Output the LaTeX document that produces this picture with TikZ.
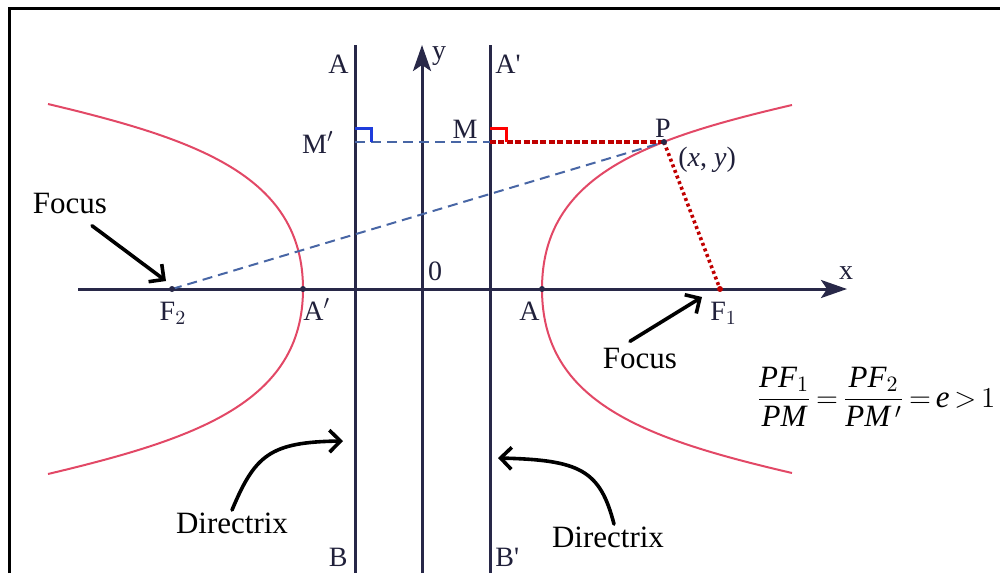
\documentclass[tikz,border=0pt]{standalone}
\usepackage{amsmath}
\usepackage{fontspec}
\setmainfont{Liberation Serif}
\usetikzlibrary{arrows.meta}

\definecolor{axisblue}{RGB}{40,40,72}
\definecolor{hypred}{RGB}{226,72,102}
\definecolor{dashblue}{RGB}{72,102,165}
\definecolor{dotred}{RGB}{192,0,0}
\definecolor{markblue}{RGB}{30,60,220}

\begin{document}
\begin{tikzpicture}[x=0.5pt,y=-0.5pt,
    axis/.style={axisblue,line width=1.5pt},
    lbl/.style={font=\fontsize{14}{16}\selectfont,inner sep=0pt,text=axisblue!80!black},
    word/.style={font=\fontsize{15.5}{18}\selectfont,inner sep=0pt},
    callout/.style={black,line width=1.8pt,line cap=round,
      -{Straight Barb[length=5.5pt,width=11pt,line width=1.8pt]}}]
  \useasboundingbox (0,0) rectangle (1000,573);
  \draw[line width=1.5pt] (9,573) -- (9,8) -- (1000,8);

  \coordinate (O) at (422,289);
  \coordinate (F1) at (720,289);
  \coordinate (F2) at (172,289);
  \coordinate (A1) at (542,289);
  \coordinate (A2) at (303,289);
  \coordinate (P) at (664,142);
  \coordinate (M) at (490,142);
  \coordinate (Mp) at (355,142);

  % axes and directrices
  \draw[axis,-{Stealth[length=13pt,width=9pt,inset=3pt]}] (78,289) -- (847,289);
  \draw[axis,-{Stealth[length=13pt,width=9pt,inset=3pt]}] (422,573) -- (422,45);
  \draw[axis] (355,45) -- (355,573);
  \draw[axis] (490,45) -- (490,573);

  % the two branches
  \draw[hypred,line width=1pt] (792,105) .. controls (646,139) and (542,175) .. (A1)
    .. controls (542,403) and (646,439) .. (792,473);
  \draw[hypred,line width=1pt] (48,104) .. controls (195,139) and (303,175) .. (A2)
    .. controls (303,403) and (195,439) .. (48,474);

  \draw[dashblue,line width=1pt,dash pattern=on 5pt off 3pt] (F2) -- (P);
  \draw[dashblue,line width=1pt,dash pattern=on 5pt off 3pt] (Mp) -- (M);
  \draw[dotred,line width=1.6pt,dash pattern=on 3pt off 1.2pt] (M) -- (P);
  \draw[dotred,line width=1.8pt,dash pattern=on 1.5pt off 1.5pt] (P) -- (F1);
  \draw[markblue,line width=1.5pt] (Mp) ++(0,-14) -- ++(16,0) -- ++(0,14);
  \draw[red,line width=1.5pt] (M) ++(0,-14) -- ++(16,0) -- ++(0,14);

  \fill[axisblue] (F2) circle (1.5pt) (A2) circle (1.5pt) (A1) circle (1.5pt) (P) circle (1.5pt);
  \fill[dotred] (F1) circle (1.5pt);

  % labels
  \node[lbl,anchor=base east] (Atop) at (349,73) {A};
  \node[lbl,anchor=base west] (Aptop) at (495,73) {A\textquotesingle};
  \node[lbl,anchor=base east] (Bbot) at (348,566) {B};
  \node[lbl,anchor=base west] (Bpbot) at (495,566) {B\textquotesingle};
  \node[lbl,anchor=base east] (Mplab) at (334,153) {M$'$};
  \node[lbl,anchor=base east] (Mlab) at (478,138) {M};
  \node[lbl] (ylab) at (439,56) {y};
  \node[lbl] (xlab) at (846,273) {x};
  \node[lbl] (Olab) at (435,271) {0};
  \node[lbl,anchor=base] (Plab) at (663,137) {P};
  \node[lbl,anchor=base west] (xylab) at (678,166) {(\textit{x}, \textit{y})};
  \node[lbl,anchor=base] (F2lab) at (173,320) {F$_2$};
  \node[lbl,anchor=base west] (A2lab) at (303,320) {A$'$};
  \node[lbl,anchor=base east] (A1lab) at (540,320) {A};
  \node[lbl,anchor=base west] (F1lab) at (710,320) {F$_1$};

  \node[word,anchor=base] (focusL) at (70,213) {Focus};
  \node[word,anchor=base] (focusR) at (640,368) {Focus};
  \node[word,anchor=base] (dirL) at (232,533) {Directrix};
  \node[word,anchor=base] (dirR) at (608,547) {Directrix};
  \coordinate (tipL) at (343,441);
  \coordinate (tipR) at (498,458);

  \draw[callout] ([xshift=11pt,yshift=-6pt]focusL.south) -- ([xshift=-3pt,yshift=4pt]F2);
  \draw[callout] ([xshift=-5pt,yshift=3pt]focusR.north) -- ([xshift=-9pt,yshift=-4pt]F1);
  \draw[callout] ([yshift=1pt]dirL.north) .. controls (255,455) and (270,442) .. (tipL);
  \draw[callout] ([xshift=3pt,yshift=1pt]dirR.north) .. controls (600,470) and (580,460) .. (tipR);

  \node[font=\fontsize{15.5}{18}\selectfont,inner sep=0pt] (ratio) at (876,397)
    {\thickmuskip=3mu $\dfrac{\textit{PF}_1}{\textit{PM}}=\dfrac{\textit{PF}_2}{\textit{PM}\,'}=\textit{e}>1$};
\end{tikzpicture}
\end{document}
